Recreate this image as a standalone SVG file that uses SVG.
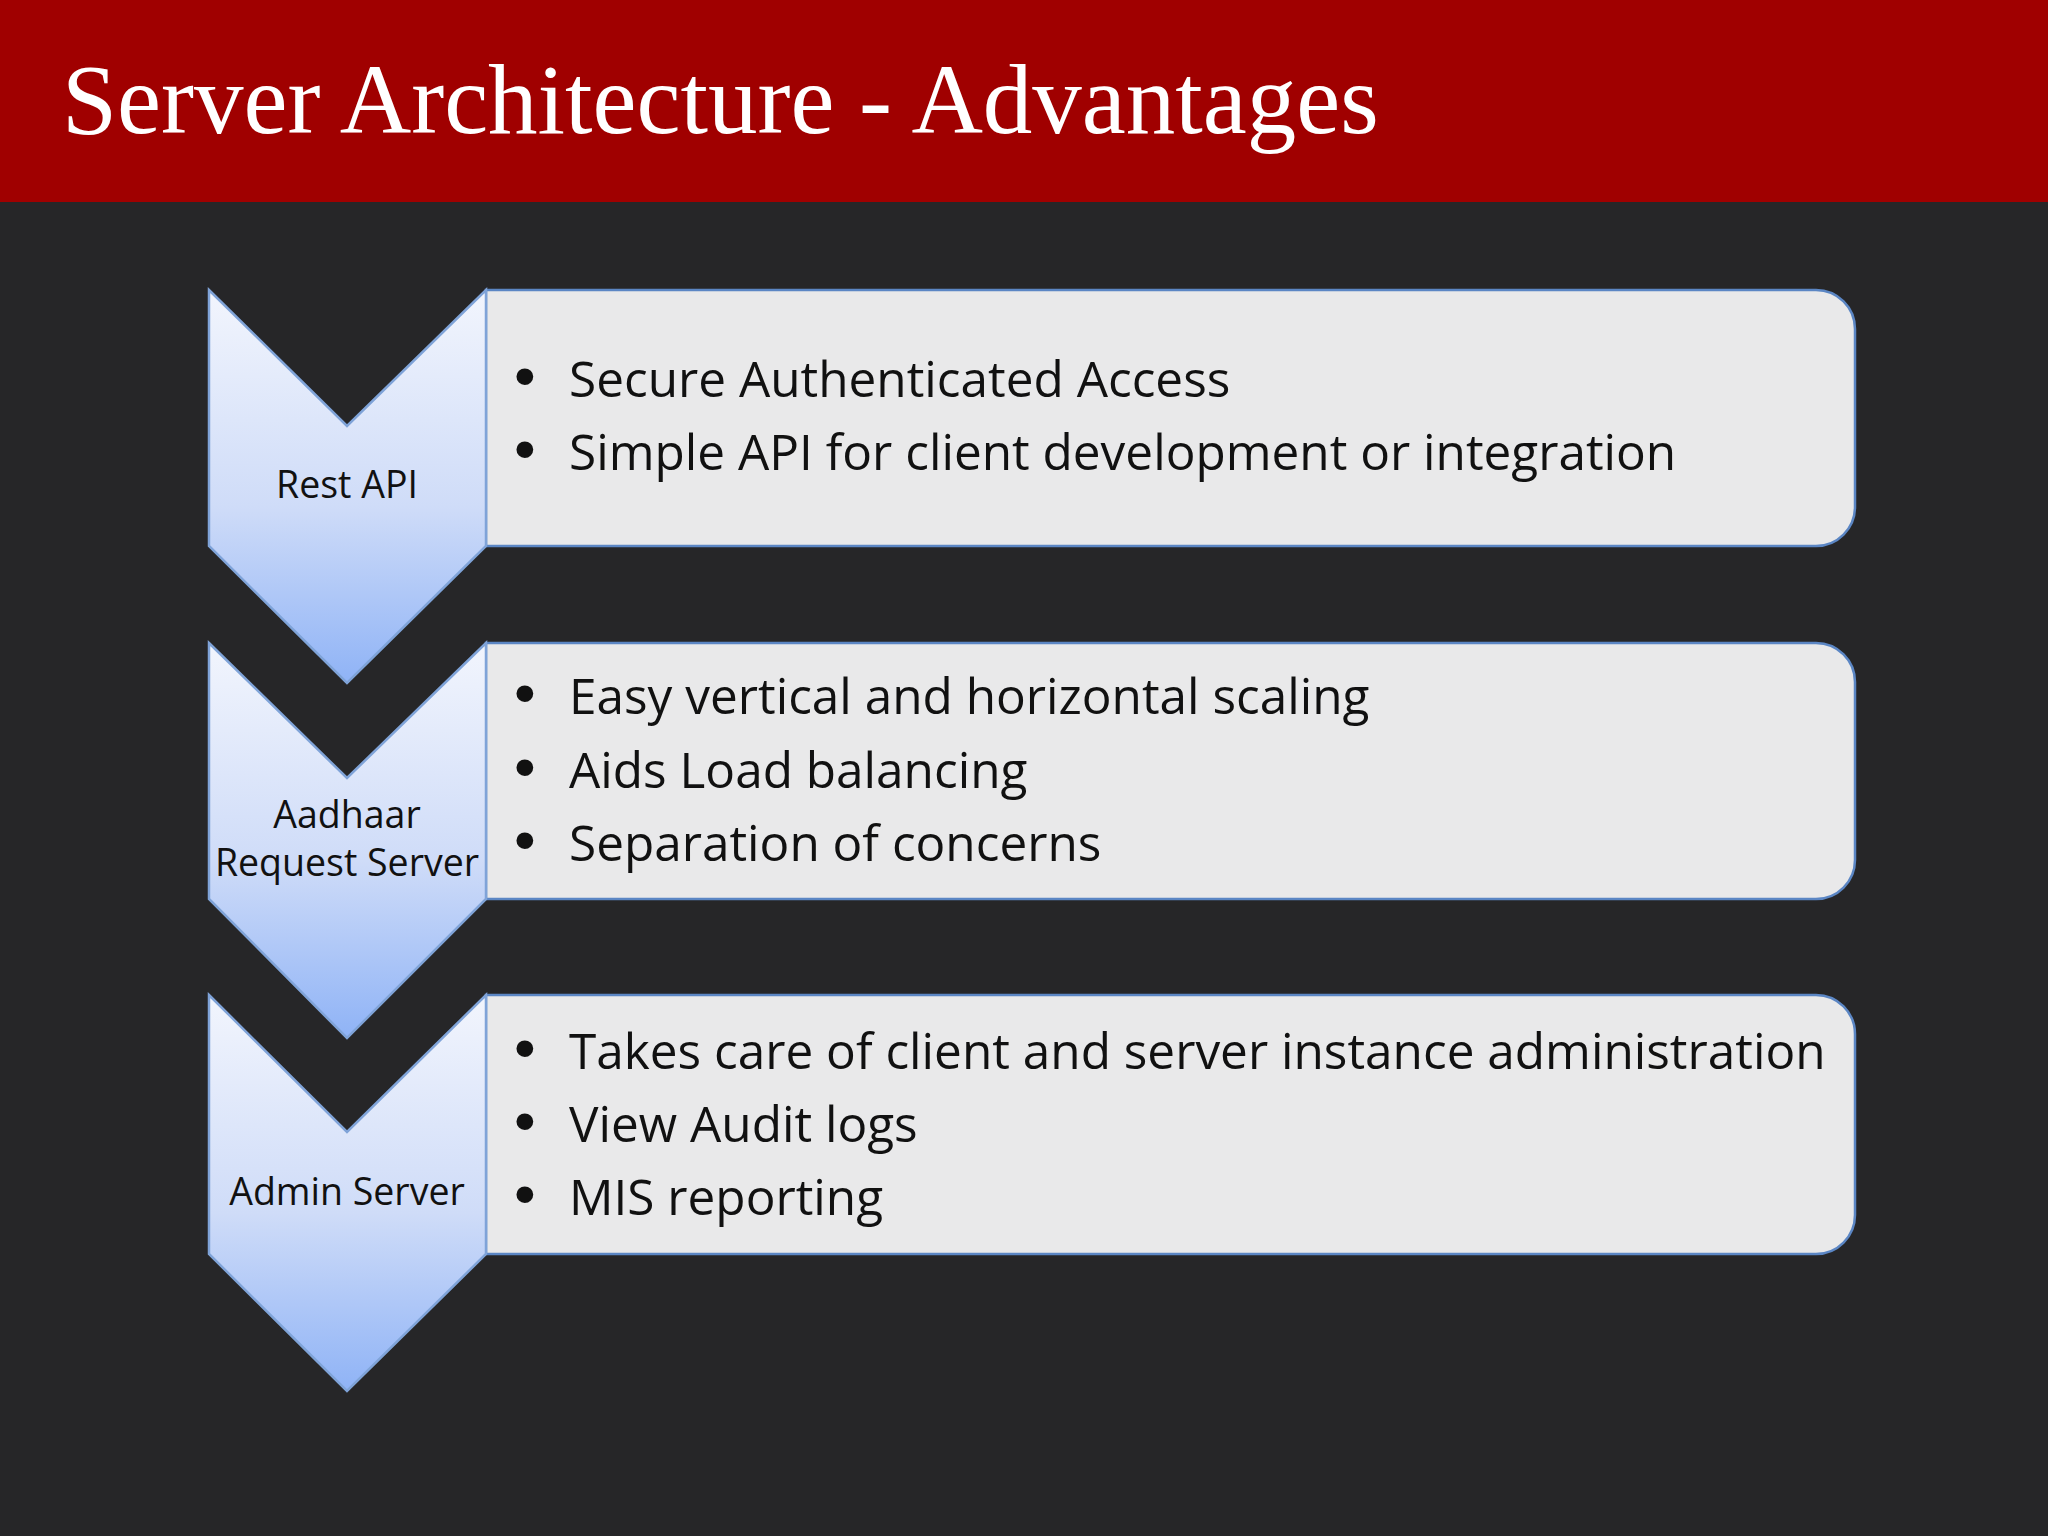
<svg xmlns="http://www.w3.org/2000/svg" width="2048" height="1536" viewBox="0 0 2048 1536">
<style>
.box{fill:#e9e9ea;stroke:#5b86c4;stroke-width:2.5}
.chev{fill:url(#g);stroke:#7fa3d8;stroke-width:2.5}
.lab{font-family:"Open Sans","Noto Sans",sans-serif;font-size:37.5px;fill:#111;text-anchor:middle}
.bt{font-family:"Open Sans","Noto Sans",sans-serif;font-size:49.5px;fill:#111}
.bu{font-family:"Liberation Sans",sans-serif;font-size:62px;fill:#111}
</style>
<defs>
<linearGradient id="g" x1="0" y1="0" x2="0" y2="1">
<stop offset="0" stop-color="#f2f5fd"/><stop offset="0.55" stop-color="#cfdcf8"/><stop offset="1" stop-color="#8fb3f6"/>
</linearGradient>
</defs>
<rect width="2048" height="1536" fill="#262628"/>
<rect width="2048" height="202" fill="#a00000"/>
<text x="62" y="133" font-family="'Liberation Serif',serif" font-size="99" fill="#fff">Server Architecture - Advantages</text>
<g id="n1">
<path class="box" d="M486 290H1816a39 39 0 0 1 39 39V507a39 39 0 0 1-39 39H486Z"/>
<path class="chev" d="M209 290L347 426L486 290V546L347 683L209 546Z"/>
<text class="lab" x="347" y="498">Rest API</text>
<text class="bu" x="514" y="397">•</text><text class="bt" x="569" y="397">Secure Authenticated Access</text>
<text class="bu" x="514" y="470">•</text><text class="bt" x="569" y="470">Simple API for client development or integration</text>
</g>
<g id="n2">
<path class="box" d="M486 643H1816a39 39 0 0 1 39 39V860a39 39 0 0 1-39 39H486Z"/>
<path class="chev" d="M209 643L347 778L486 643V899L347 1038L209 899Z"/>
<text class="lab" x="347" y="828">Aadhaar</text>
<text class="lab" x="347" y="876">Request Server</text>
<text class="bu" x="514" y="714">•</text><text class="bt" x="569" y="714">Easy vertical and horizontal scaling</text>
<text class="bu" x="514" y="788">•</text><text class="bt" x="569" y="788">Aids Load balancing</text>
<text class="bu" x="514" y="861">•</text><text class="bt" x="569" y="861">Separation of concerns</text>
</g>
<g id="n3">
<path class="box" d="M486 995H1816a39 39 0 0 1 39 39V1215a39 39 0 0 1-39 39H486Z"/>
<path class="chev" d="M209 995L347 1132L486 995V1254L347 1391L209 1254Z"/>
<text class="lab" x="347" y="1205">Admin Server</text>
<text class="bu" x="514" y="1069">•</text><text class="bt" x="569" y="1069">Takes care of client and server instance administration</text>
<text class="bu" x="514" y="1142">•</text><text class="bt" x="569" y="1142">View Audit logs</text>
<text class="bu" x="514" y="1215">•</text><text class="bt" x="569" y="1215">MIS reporting</text>
</g>
<g id="connectors"/>
</svg>
